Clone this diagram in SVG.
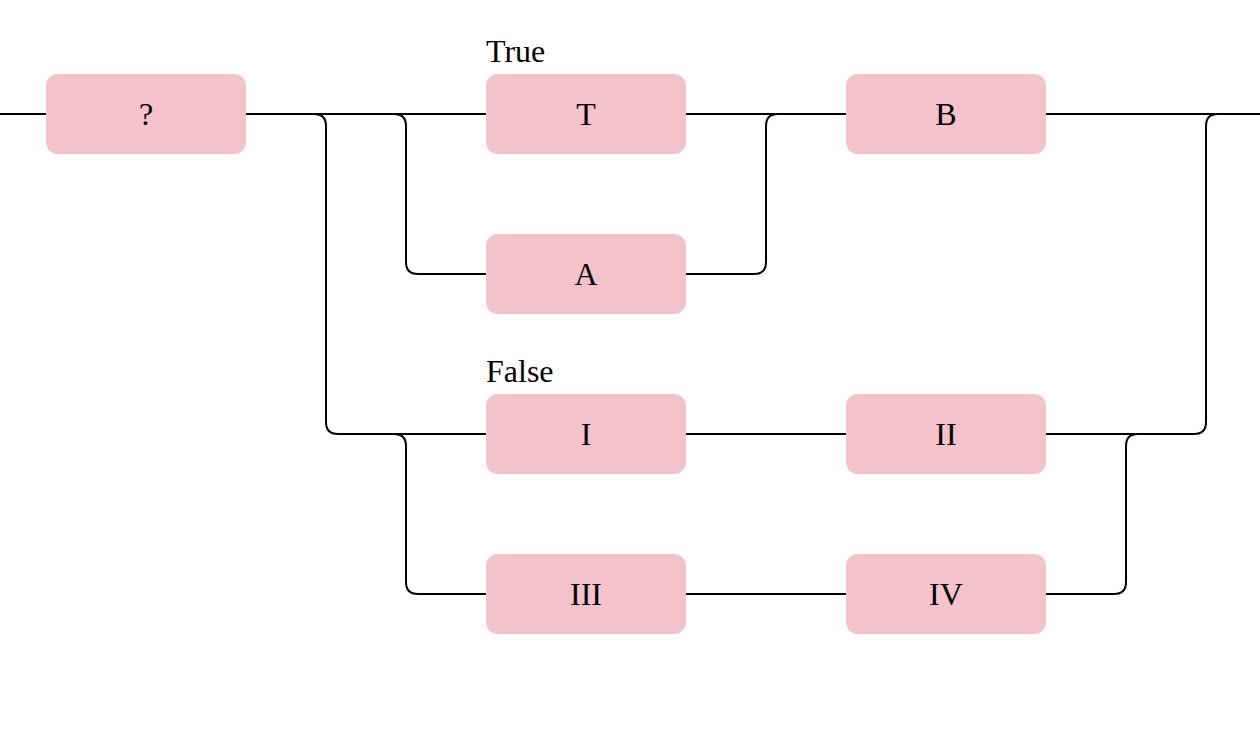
<svg xmlns="http://www.w3.org/2000/svg" width="1260" height="748" viewBox="0 0 1260 748">
<style>
.box{fill:#f4c2cb;}
.lbl{font-family:"Liberation Serif","Times New Roman",serif;font-size:32px;fill:#000;text-anchor:middle;}
.cap{font-family:"Liberation Serif","Times New Roman",serif;font-size:32px;fill:#000;}
.wire{fill:none;stroke:#000;stroke-width:2;}
</style>
<rect width="1260" height="748" fill="#fff"/>
<g id="connectors">
<path class="wire" d="M0,114 H46"/>
<path class="wire" d="M246,114 H486"/>
<path class="wire" d="M314,114 Q326,114 326,126 V422 Q326,434 338,434 H486"/>
<path class="wire" d="M394,114 Q406,114 406,126 V262 Q406,274 418,274 H486"/>
<path class="wire" d="M394,434 Q406,434 406,446 V582 Q406,594 418,594 H486"/>
<path class="wire" d="M686,114 H846"/>
<path class="wire" d="M686,274 H754 Q766,274 766,262 V126 Q766,114 778,114"/>
<path class="wire" d="M686,434 H846"/>
<path class="wire" d="M686,594 H846"/>
<path class="wire" d="M1046,114 H1260"/>
<path class="wire" d="M1046,434 H1194 Q1206,434 1206,422 V126 Q1206,114 1218,114"/>
<path class="wire" d="M1046,594 H1114 Q1126,594 1126,582 V446 Q1126,434 1138,434"/>
</g>
<g id="node-q"><rect class="box" x="46" y="74" width="200" height="80" rx="12"/><text class="lbl" x="146" y="114" dy="0.33em">?</text></g>
<g id="node-T"><rect class="box" x="486" y="74" width="200" height="80" rx="12"/><text class="lbl" x="586" y="114" dy="0.33em">T</text></g>
<g id="node-A"><rect class="box" x="486" y="234" width="200" height="80" rx="12"/><text class="lbl" x="586" y="274" dy="0.33em">A</text></g>
<g id="node-B"><rect class="box" x="846" y="74" width="200" height="80" rx="12"/><text class="lbl" x="946" y="114" dy="0.33em">B</text></g>
<g id="node-I"><rect class="box" x="486" y="394" width="200" height="80" rx="12"/><text class="lbl" x="586" y="434" dy="0.33em">I</text></g>
<g id="node-II"><rect class="box" x="846" y="394" width="200" height="80" rx="12"/><text class="lbl" x="946" y="434" dy="0.33em">II</text></g>
<g id="node-III"><rect class="box" x="486" y="554" width="200" height="80" rx="12"/><text class="lbl" x="586" y="594" dy="0.33em">III</text></g>
<g id="node-IV"><rect class="box" x="846" y="554" width="200" height="80" rx="12"/><text class="lbl" x="946" y="594" dy="0.33em">IV</text></g>
<g id="labels">
<text class="cap" x="486" y="62">True</text>
<text class="cap" x="486" y="382">False</text>
</g>
</svg>
